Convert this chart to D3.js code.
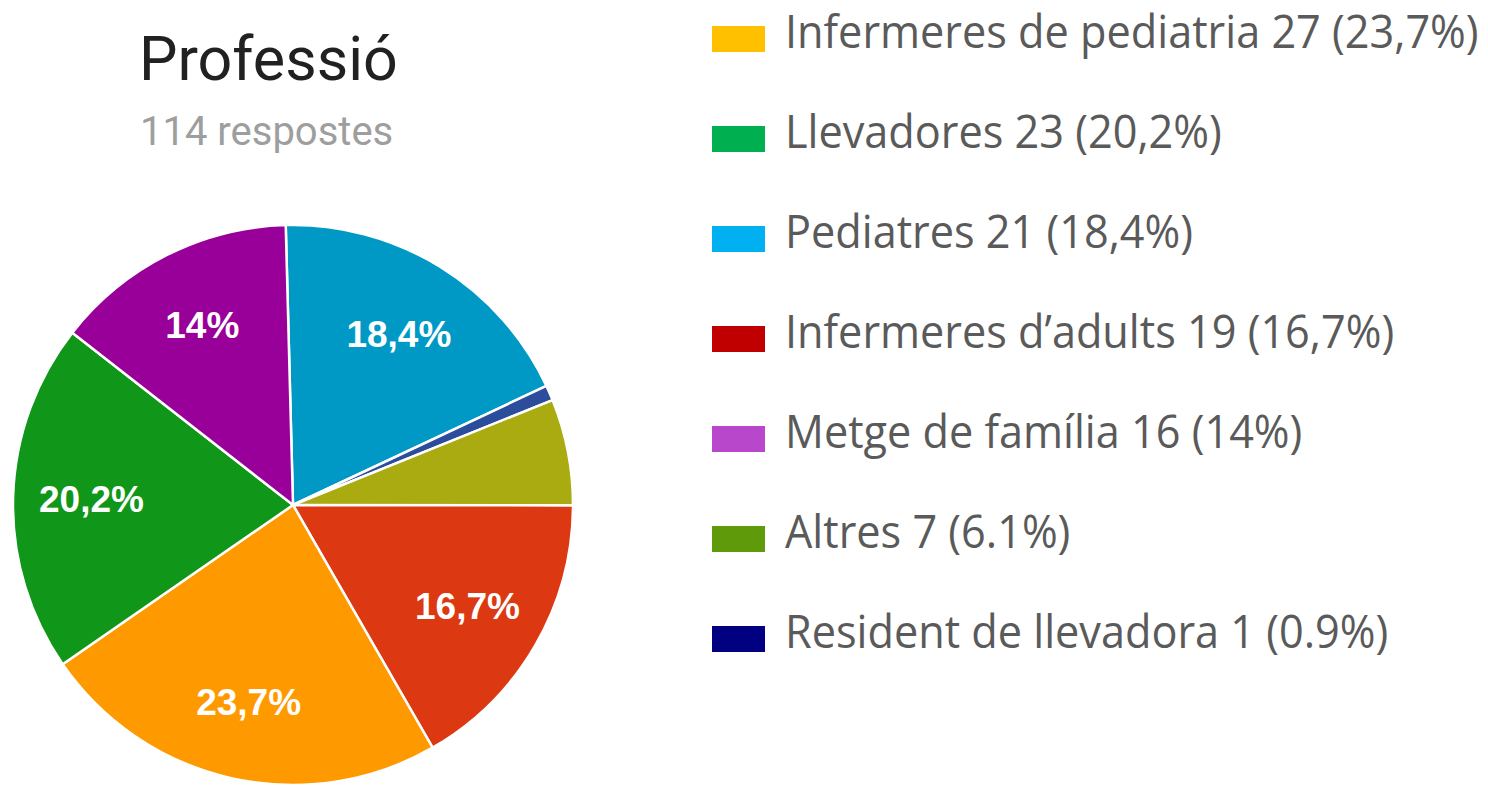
<!DOCTYPE html>
<html>
<head>
<meta charset="utf-8">
<script src="https://cdn.jsdelivr.net/npm/d3@7"></script>
<style>
  body { margin: 0; background: #fff; }
  svg { display: block; }
</style>
</head>
<body>
<script>

// dades
var categories = ["Infermeres de pediatria", "Llevadores", "Pediatres", "Infermeres d\u2019adults", "Metge de família", "Altres", "Resident de llevadora"];
var counts = [27, 23, 21, 19, 16, 7, 1];
var pctText = ["23,7%", "20,2%", "18,4%", "16,7%", "14%", "6.1%", "0.9%"];
// order of the slices, clockwise from 12 o'clock
var pieOrder = ["Pediatres", "Resident de llevadora", "Altres", "Infermeres d\u2019adults", "Infermeres de pediatria", "Llevadores", "Metge de família"];

var pieColors = ["#FF9900", "#109618", "#0099C6", "#DC3912", "#990099", "#AAAA11", "#2C4C9C"];
var legendColors = ["#FFC000", "#00B050", "#00B0F0", "#C00000", "#B847CC", "#5E9A0A", "#000080"];

var title = "Professió";
var subtitle = "114 respostes";

var width = 1488, height = 786;
var cx = 293, cy = 505, radius = 280;
var LABEL_MIN = 0.1;

var total = d3.sum(counts);
var pieFill = d3.scaleOrdinal(categories, pieColors);
var legFill = d3.scaleOrdinal(categories, legendColors);

var svg = d3.select("body").append("svg")
    .attr("width", width)
    .attr("height", height);

svg.append("text")
    .attr("x", 139)
    .attr("y", 80)
    .style("font-family", "Roboto, sans-serif")
    .style("font-size", "61px")
    .style("fill", "#212121")
    .text(title);

svg.append("text")
    .attr("x", 140)
    .attr("y", 145)
    .style("font-family", "Roboto, sans-serif")
    .style("font-size", "40px")
    .style("fill", "#9e9e9e")
    .text(subtitle);

var rows = pieOrder.map(function(name) {
  var i = categories.indexOf(name);
  return { name: name, value: counts[i], label: pctText[i] };
});

var pie = d3.pie()
    .sort(null)
    .value(function(d) { return d.value; })
    .startAngle(-0.026)
    .endAngle(2 * Math.PI - 0.026);

var arc = d3.arc().innerRadius(0).outerRadius(radius);
var labelArc = d3.arc().innerRadius(radius * 0.72).outerRadius(radius * 0.72);

var g = svg.append("g")
    .attr("transform", "translate(" + cx + "," + cy + ")");

var slices = pie(rows);

g.selectAll(".slice")
  .data(slices)
  .enter().append("path")
    .attr("class", "slice")
    .attr("d", arc)
    .attr("fill", function(d) { return pieFill(d.data.name); })
    .attr("stroke", "#fff")
    .attr("stroke-width", 2.5);

g.selectAll(".pct")
  .data(slices.filter(function(d) { return d.data.value / total >= LABEL_MIN; }))
  .enter().append("text")
    .attr("class", "pct")
    .attr("transform", function(d) { return "translate(" + labelArc.centroid(d) + ")"; })
    .attr("text-anchor", "middle")
    .attr("dy", "0.36em")
    .style("font-family", "'Liberation Sans', Arial, sans-serif")
    .style("font-weight", "bold")
    .style("font-size", "37px")
    .style("fill", "#fff")
    .text(function(d) { return d.data.label; });

// llegenda
var ly = d3.scalePoint()
    .domain(categories)
    .range([48, 648]);

var leg = svg.append("g").attr("class", "legend");

var item = leg.selectAll(".item")
  .data(categories)
  .enter().append("g")
    .attr("class", "item")
    .attr("transform", function(d) { return "translate(0," + ly(d) + ")"; });

item.append("rect")
    .attr("x", 712)
    .attr("y", -22)
    .attr("width", 53)
    .attr("height", 26)
    .attr("fill", function(d) { return legFill(d); });

item.append("text")
    .attr("transform", "translate(785,0) scale(0.94,1)")
    .style("font-family", "'Open Sans', sans-serif")
    .style("font-size", "46px")
    .style("fill", "#5a5a5a")
    .text(function(d, i) { return d + " " + counts[i] + " (" + pctText[i] + ")"; });

</script>
</body>
</html>
